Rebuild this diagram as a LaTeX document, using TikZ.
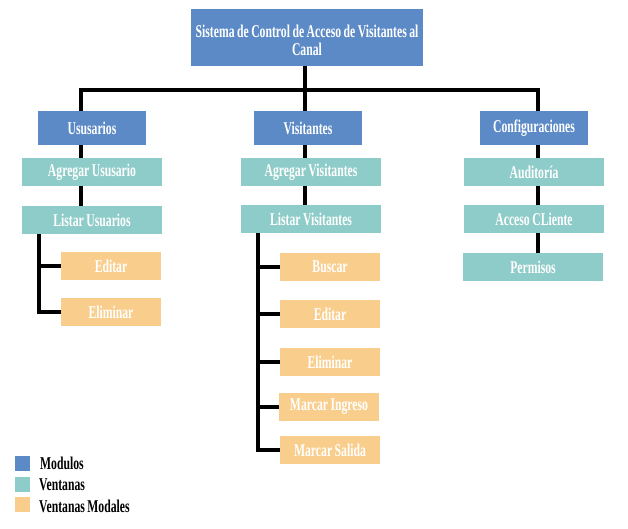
\documentclass[tikz,border=0pt]{standalone}
\usepackage{fontspec}
\setmainfont{Liberation Serif}[FakeStretch=0.65,WordSpace=0.85]
\usepackage{tikz}
\definecolor{azul}{RGB}{92,138,198}
\definecolor{verde}{RGB}{142,204,201}
\definecolor{naranja}{RGB}{249,206,141}
\tikzstyle{caja}=[rectangle,inner sep=0pt,text=white,font=\bfseries\fontsize{18}{19}\selectfont]
\tikzstyle{modulo}=[caja,fill=azul,minimum width=108pt,minimum height=34pt]
\tikzstyle{ventana}=[caja,fill=verde,minimum width=140pt,minimum height=28pt]
\tikzstyle{modal}=[caja,fill=naranja,minimum width=100pt,minimum height=28pt]
\tikzstyle{edge} = [draw,line width=4pt,-]

\begin{document}
\begin{tikzpicture}[x=1pt,y=-1pt]
          \useasboundingbox (0,0) rectangle (628,528);
          % conectores
          \coordinate (bar) at (305,90);
          \coordinate (bl) at (81,90);
          \coordinate (br) at (538,90);
          \coordinate (lu) at (39,234);
          \coordinate (lv) at (258,233);
          \node[modulo,minimum width=232pt,minimum height=57pt] (sis) at (307,37.5) {};
          \node[caja,align=center] (sist) at (307,40) {Sistema de Control de Acceso de Visitantes al\\[-1pt]Canal};
          % modulos
          \node[modulo] (usu) at (92,128) {Ususarios};
          \node[modulo] (vis) at (308,128) {Visitantes};
          \node[modulo] (conf) at (534,128) {Configuraciones};
          % ventanas
          \node[ventana] (agu) at (92,172) {Agregar Ususario};
          \node[ventana] (liu) at (92,220) {Listar Usuarios};
          \node[ventana] (agv) at (311,172) {Agregar Visitantes};
          \node[ventana] (liv) at (311,219) {Listar Visitantes};
          \node[ventana] (aud) at (534,172) {Auditor\'ia};
          \node[ventana] (acc) at (534,219) {Acceso CLiente};
          \node[ventana] (per) at (533,267) {Permisos};
          % ventanas modales
          \node[modal] (edu) at (111,266) {Editar};
          \node[modal] (elu) at (111,312) {Eliminar};
          \node[modal] (bus) at (330,267) {Buscar};
          \node[modal] (edv) at (330,314) {Editar};
          \node[modal] (elv) at (330,362) {Eliminar};
          \node[modal] (ing) at (329,407) {Marcar Ingreso};
          \node[modal] (sal) at (330,450) {Marcar Salida};
          \draw[edge] ([xshift=-2pt]sis.south) -- (bar);
          \draw[edge] ([xshift=-11pt]usu.north) |- (br) -- ([xshift=4pt]conf.north);
          \draw[edge] (bar) -- ([xshift=-3pt]vis.north);
          \draw[edge] ([xshift=-11pt]usu.south) -- ([xshift=-11pt]agu.north);
          \draw[edge] ([xshift=-11pt]agu.south) -- ([xshift=-11pt]liu.north);
          \draw[edge] ([xshift=-3pt]vis.south) -- ([xshift=-6pt]agv.north);
          \draw[edge] ([xshift=-6pt]agv.south) -- ([xshift=-6pt]liv.north);
          \draw[edge] ([xshift=4pt]conf.south) -- ([xshift=4pt]aud.north);
          \draw[edge] ([xshift=4pt]aud.south) -- ([xshift=4pt]acc.north);
          \draw[edge] ([xshift=4pt]acc.south) -- ([xshift=5pt]per.north);
          \draw[edge] (lu) |- (edu.west);
          \draw[edge] (lu) |- (elu.west);
          \foreach \m in {bus,edv,elv,ing,sal}
            \draw[edge] (lv) |- (\m.west);
          % leyenda
          \node[fill=azul,minimum size=15pt,inner sep=0pt] (lm) at (22.5,463.5) {};
          \node[fill=verde,minimum size=15pt,inner sep=0pt] (lve) at (22.5,484.5) {};
          \node[fill=naranja,minimum size=15pt,inner sep=0pt] (lmo) at (22.5,504.5) {};
          \node[caja,text=black,anchor=west] (tm) at (40,463) {Modulos};
          \node[caja,text=black,anchor=west] (tve) at (39,485) {Ventanas};
          \node[caja,text=black,anchor=west] (tmo) at (39,506) {Ventanas Modales};
        \end{tikzpicture}
\end{document}
